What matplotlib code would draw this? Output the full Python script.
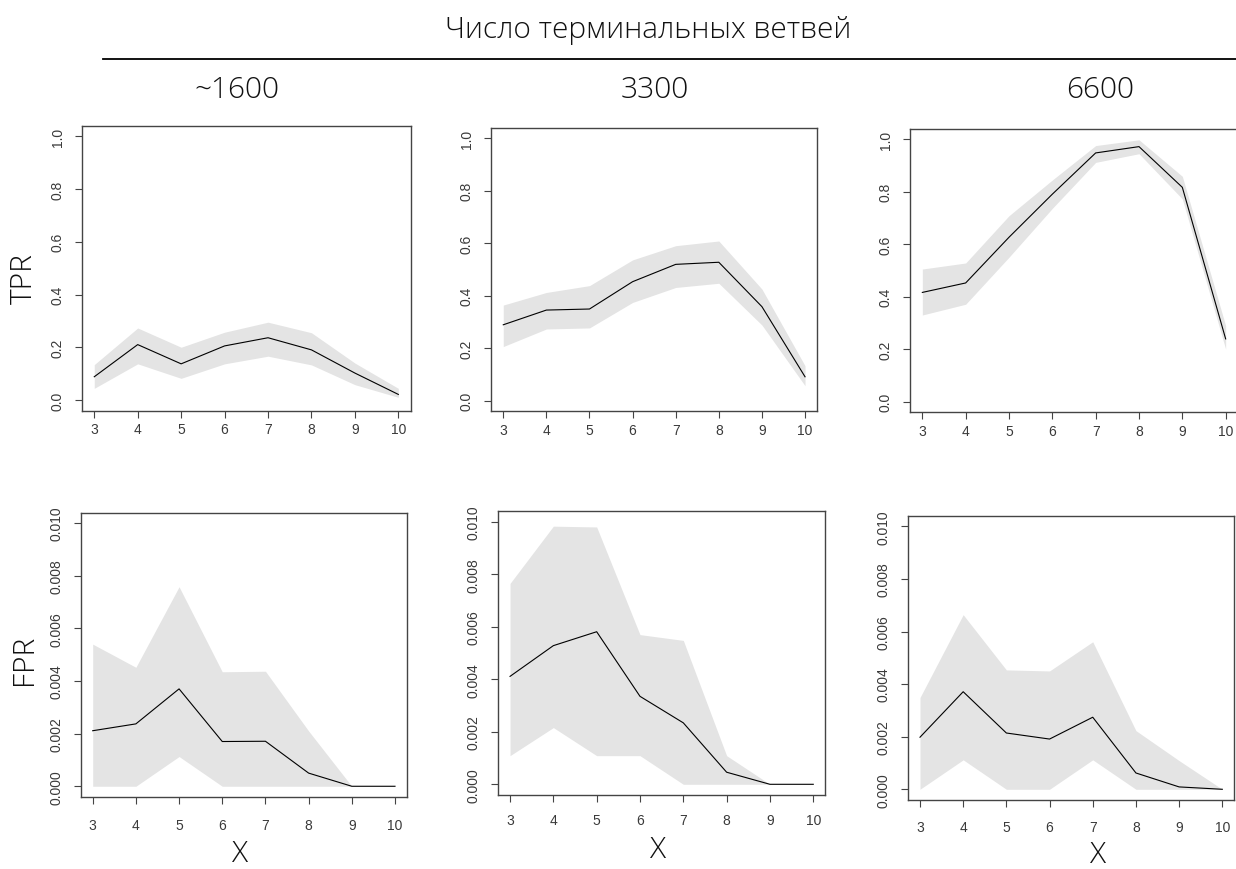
import numpy as np
import matplotlib
matplotlib.use("Agg")
from matplotlib import pyplot as plt

W, H = 1236, 870

x = [3, 4, 5, 6, 7, 8, 9, 10]
columns = ["~1600", "3300", "6600"]

# true positive rate: mean, upper and lower band per column
tpr_mean = [
    [0.088, 0.210, 0.137, 0.205, 0.236, 0.190, 0.102, 0.021],
    [0.289, 0.345, 0.349, 0.453, 0.519, 0.527, 0.358, 0.091],
    [0.416, 0.452, 0.626, 0.790, 0.947, 0.971, 0.816, 0.239],
]
tpr_upper = [
    [0.134, 0.273, 0.200, 0.257, 0.295, 0.255, 0.140, 0.044],
    [0.364, 0.412, 0.438, 0.536, 0.590, 0.608, 0.425, 0.133],
    [0.505, 0.528, 0.708, 0.844, 0.975, 0.997, 0.858, 0.289],
]
tpr_lower = [
    [0.044, 0.137, 0.082, 0.137, 0.166, 0.133, 0.058, 0.010],
    [0.206, 0.273, 0.277, 0.374, 0.431, 0.447, 0.288, 0.057],
    [0.330, 0.371, 0.550, 0.736, 0.911, 0.944, 0.772, 0.200],
]

# false positive rate
fpr_mean = [
    [0.00211, 0.00237, 0.00370, 0.00170, 0.00171, 0.00050, 0.0, 0.0],
    [0.00411, 0.00528, 0.00581, 0.00335, 0.00234, 0.00046, 0.0, 0.0],
    [0.00198, 0.00371, 0.00214, 0.00191, 0.00274, 0.00062, 0.00009, 0.0],
]
fpr_upper = [
    [0.00540, 0.00452, 0.00758, 0.00435, 0.00437, 0.00210, 0.0, 0.0],
    [0.00765, 0.00983, 0.00980, 0.00570, 0.00548, 0.00109, 0.0, 0.0],
    [0.00349, 0.00664, 0.00454, 0.00450, 0.00561, 0.00223, 0.00109, 0.0],
]
fpr_lower = [
    [0.0, 0.0, 0.00113, 0.0, 0.0, 0.0, 0.0, 0.0],
    [0.00109, 0.00216, 0.00109, 0.00109, 0.0, 0.0, 0.0, 0.0],
    [0.0, 0.00112, 0.0, 0.0, 0.00112, 0.0, 0.0, 0.0],
]

# panel boxes in pixels: left, top, right, bottom
tpr_boxes = [(82.1, 126.8, 410.5, 411.5), (491.2, 128.5, 817.1, 412.2), (910.2, 129.5, 1237.8, 413.2)]
fpr_boxes = [(80.6, 513.5, 407.1, 797.8), (497.9, 512.2, 825.4, 795.8), (907.9, 516.8, 1234.4, 800.8)]
fpr_xpads = [10.5, 8, 9.5]

label_font = dict(family="Open Sans", fontweight="light", color="#111111")
tick_font = "Liberation Sans"


def px(xp, yp):
    return xp / W, 1 - yp / H


def add_panel(fig, box, mean, upper, lower, ymax, yticks, yfmt, xpad):
    l, t, r, b = box
    ax = fig.add_axes([l / W, 1 - b / H, (r - l) / W, (b - t) / H])
    ax.fill_between(x, lower, upper, color="#e4e4e4", linewidth=0)
    ax.plot(x, mean, color="black", linewidth=0.8)
    ax.set_xlim(2.72, 10.28)
    ax.set_ylim(-0.04 * ymax, 1.04 * ymax)
    ax.set_xticks(x)
    ax.set_yticks(yticks)
    ax.set_yticklabels([yfmt.format(v) for v in yticks], rotation=90, va="center")
    for s in ax.spines.values():
        s.set_color("#444444")
        s.set_linewidth(1.0)
    ax.tick_params(length=5, width=0.8, color="#444444", labelcolor="#3a3a3a",
                   labelsize=10)
    ax.tick_params(axis="x", pad=xpad)
    ax.tick_params(axis="y", pad=7.5)
    for lab in ax.get_xticklabels() + ax.get_yticklabels():
        lab.set_family(tick_font)
    return ax


fig = plt.figure(figsize=(W / 100, H / 100), dpi=100)

for i in range(3):
    add_panel(fig, tpr_boxes[i], tpr_mean[i], tpr_upper[i], tpr_lower[i], 1.0,
              [0.0, 0.2, 0.4, 0.6, 0.8, 1.0], "{:.1f}", 3.5)
    add_panel(fig, fpr_boxes[i], fpr_mean[i], fpr_upper[i], fpr_lower[i], 0.01,
              [0.0, 0.002, 0.004, 0.006, 0.008, 0.010], "{:.3f}", fpr_xpads[i])

fig.text(*px(648, 38), "Число терминальных ветвей", ha="center", va="baseline",
         fontsize=21.5, **label_font)
fig.add_artist(plt.Line2D([103 / W, 1.0], [1 - 60 / H, 1 - 60 / H], color="black", linewidth=1.3))

col_x = [237, 655, 1100]
for cx, name in zip(col_x, columns):
    fig.text(*px(cx, 98), name, ha="center", va="baseline", fontsize=21.5, **label_font)

fig.text(*px(24, 279), "TPR", ha="center", va="center", rotation=90, fontsize=21.5, **label_font)
fig.text(*px(24, 660), "FPR", ha="center", va="center", rotation=90, fontsize=21.5, **label_font)

for cx, by in zip([240, 658, 1098], [862, 858, 863]):
    fig.text(*px(cx, by), "X", ha="center", va="baseline", fontsize=21.5, **label_font)

fig.savefig("out.png", dpi=100)
